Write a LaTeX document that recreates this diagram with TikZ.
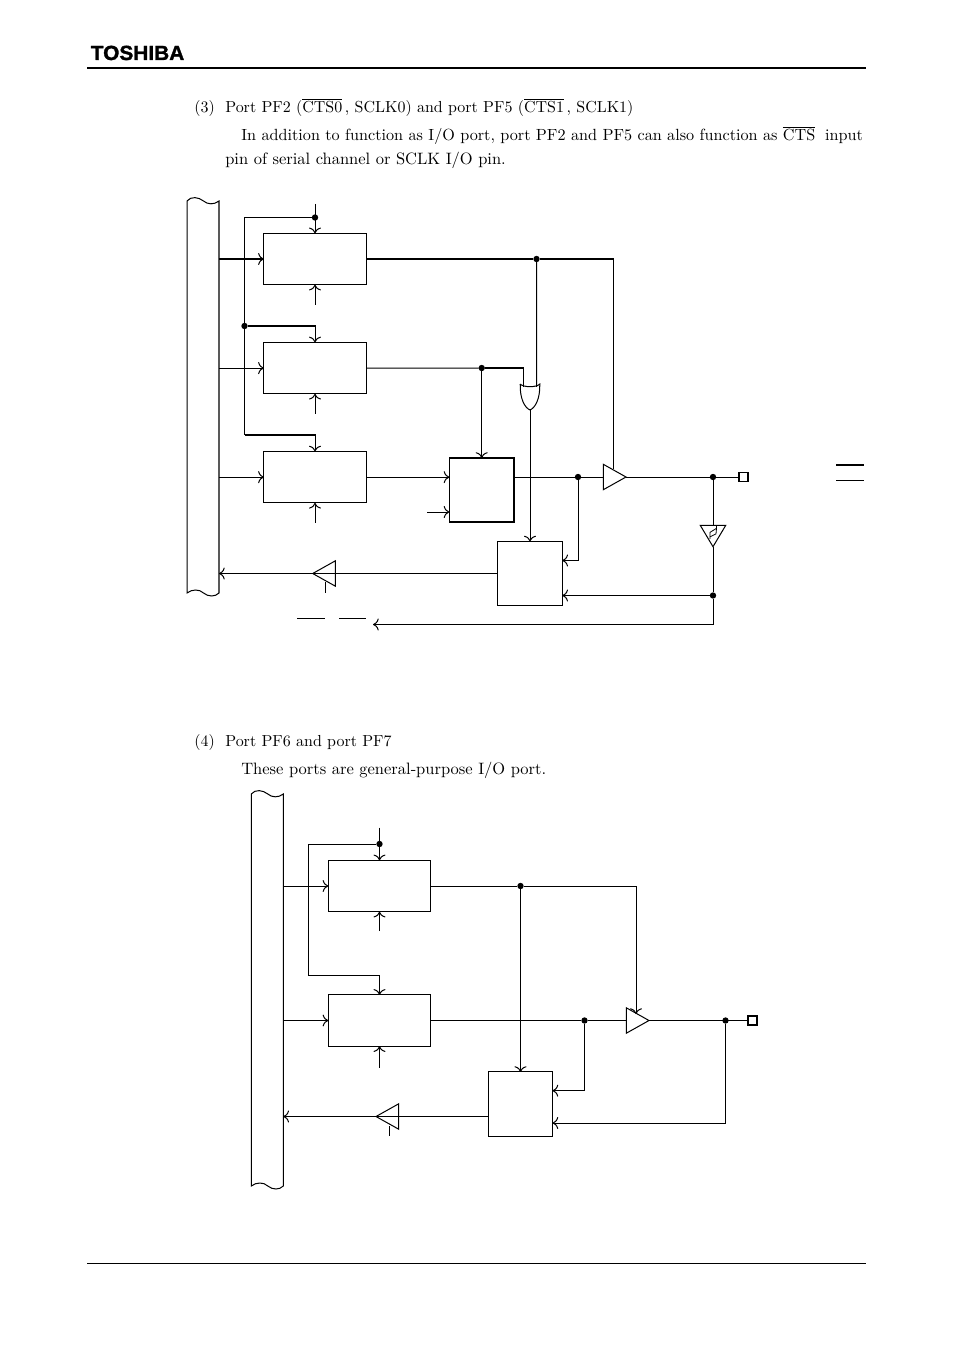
\documentclass[tikz,border=0pt]{standalone}
\usepackage{xcolor}
\usepackage{fontspec}
\usetikzlibrary{shapes.geometric,arrows.meta}
\newfontfamily\logofont{Liberation Sans}[BoldFeatures={FakeBold=1.5,FakeStretch=1.02}]

\begin{document}
\begin{tikzpicture}[x=0.022cm,y=-0.022cm,node distance=2.4cm]
\tikzstyle{box} = [rectangle, minimum width=2.25cm, minimum height=1.13cm, inner sep=0pt, outer sep=0pt, draw=black, line width=0.63pt]
\tikzstyle{mux} = [rectangle, minimum width=1.42cm, minimum height=1.41cm, inner sep=0pt, outer sep=0pt, draw=black, line width=0.63pt]
\tikzstyle{bus} = [rectangle, minimum width=0.704cm, inner sep=0pt, outer sep=0pt]
\tikzstyle{dot} = [circle, fill=black, minimum size=0.14cm, inner sep=0pt, outer sep=0pt]
\tikzstyle{pin} = [rectangle, minimum size=0.2cm, inner sep=0pt, outer sep=0pt, draw=black, line width=0.9pt]
\tikzstyle{buffer} = [isosceles triangle, isosceles triangle stretches, minimum height=0.5cm, minimum width=0.56cm, inner sep=0pt, outer sep=0pt, draw=black, line width=0.63pt]
\tikzstyle{gate} = [rectangle, minimum width=0.43cm, minimum height=0.57cm, inner sep=0pt, outer sep=0pt]
\tikzstyle{body} = [anchor=base west, inner sep=0pt, font=\fontsize{10}{12}\selectfont]
\tikzstyle{bodywide} = [body, font=\fontsize{10.33}{12}\selectfont]
\tikzstyle{wire} = [line width=0.63pt]
\tikzstyle{arrow} = [line width=0.63pt,->,>={To[scale=1.2]}]

\useasboundingbox (0,0) rectangle (954,1350);

% Page
\node (logo) [anchor=base west, inner sep=0pt, font=\logofont\bfseries\fontsize{12.8}{14}\selectfont] at (90.5,60) {TOSHIBA};
\coordinate (heada) at (87,68);
\coordinate (headb) at (866,68);
\coordinate (foota) at (87,1263);
\coordinate (footb) at (866,1263);
\draw [line width=1.2pt] (heada) -- (headb);
\draw [line width=0.6pt] (foota) -- (footb);

\node (numa) [body] at (194,112.7) {(3)};
\node (texta) [body] at (225,112.7) {Port PF2 ($\overline{\mbox{CTS0}}$\,, SCLK0) and port PF5 ($\overline{\mbox{CTS1}}$\,, SCLK1)};
\node (textb) [body, font=\fontsize{10.13}{12}\selectfont] at (241,140.7) {In addition to function as I/O port, port PF2 and PF5 can also function as $\overline{\mbox{CTS}}$\; input};
\node (textc) [bodywide] at (225,165) {pin of serial channel or SCLK I/O pin.};
\node (numb) [body] at (194,746) {(4)};
\node (textd) [body] at (225,746) {Port PF6 and port PF7};
\node (texte) [bodywide] at (241,774) {These ports are general-purpose I/O port.};

% Nodes, upper circuit
\node (busa) [bus, minimum height=392*0.022cm] at (203,397) {};
\node (rega) [box] at (315,259) {};
\node (regb) [box, below of=rega] {};
\node (regc) [box, below of=regb] {};
\node (muxa) [mux, thick] at (481.7,490) {};
\node (muxb) [mux, thick] at (530,573.5) {};
\node (orgate) [gate] at (530,397) {};
\node (bufa) [buffer, anchor=east] at (626,477) {};
\node (bufb) [buffer, shape border rotate=180, anchor=west] at (312.7,573.5) {};
\node (schmitt) [buffer, minimum height=0.47cm, shape border rotate=270, anchor=south] at (713,546.7) {};
\node (pina) [pin] at (743.5,477) {};
\node (dota) [dot] at (315,217.5) {};
\node (dotb) [dot] at (244.5,326) {};
\node (dotc) [dot] at (536.5,259) {};
\node (dotd) [dot] at (481.7,368) {};
\node (dote) [dot] at (578,477) {};
\node (dotf) [dot] at (713,477) {};
\node (dotg) [dot] at (713,595.5) {};
\coordinate (clka) at (315,204);
\coordinate (rsta) at (315,304.5);
\coordinate (rstb) at (315,413.5);
\coordinate (rstc) at (315,522.5);
\coordinate (sela) at (427,512);
\coordinate (sclka) at (373,624.5);
\coordinate (enba) at (325.3,592.5);
\coordinate (enbb) at (325.3,581.5);
\coordinate (ina) at (523.3,386.8);
\coordinate (inb) at (536.7,386.8);
\coordinate (enda) at (613.3,469);
\coordinate (turna) at (244.5,435);
\coordinate (fba) at (562.3,560.5);
\coordinate (bara) at (297,618.5);
\coordinate (barb) at (339,618.5);
\coordinate (barc) at (836,465);
\coordinate (bard) at (836,480);

% Bus and gate outlines
\draw [wire] (busa.north west) .. controls +(4,-5) and +(-5,-4) .. ++(16.5,0) .. controls +(4,3.5) and +(-5,4) .. (busa.north east) -- (busa.south east) .. controls +(-4,4) and +(5,4) .. ++(-15.5,0) .. controls +(-4,-4) and +(5,-4) .. (busa.south west) -- cycle;
\draw [wire] (orgate.north west) .. controls +(3,3.5) and +(-3,3.5) .. (orgate.north east) .. controls +(0.5,15) and +(5,-2) .. (orgate.south) .. controls +(-5,-2) and +(-0.5,15) .. (orgate.north west);
\draw [line width=0.5pt] (schmitt.north) +(-3,13.5) -- +(-3,7) -- +(3.5,3) -- +(3.5,0);
\draw [line width=0.5pt] (schmitt.north) +(-3,11.5) -- +(3,8.5) -- +(3.5,3);

% Arrows, upper circuit
\draw [arrow] (clka) -- (rega.north);
\draw [arrow] (busa.east |- rega.west) -- (rega.west);
\draw [arrow] (busa.east |- regb.west) -- (regb.west);
\draw [arrow] (busa.east |- regc.west) -- (regc.west);
\draw [arrow] (rsta) -- (rega.south);
\draw [arrow] (rstb) -- (regb.south);
\draw [arrow] (rstc) -- (regc.south);
\draw [wire] (dota) -| (dotb);
\draw [arrow] (dotb) -| (regb.north);
\draw [wire] (dotb) -- (turna);
\draw [arrow] (turna) -| (regc.north);
\draw [wire] (rega.east) -- (dotc);
\draw [wire] (dotc) -| (enda);
\draw [wire] (dotc) -- (inb);
\draw [wire] (regb.east) -- (dotd);
\draw [wire] (dotd) -| (ina);
\draw [arrow] (dotd) -- (muxa.north);
\draw [arrow] (regc.east) -- (regc.east -| muxa.west);
\draw [arrow] (sela) -- (sela -| muxa.west);
\draw [arrow] (orgate.south) -- (muxb.north);
\draw [wire] (muxa.east |- bufa.west) -- (bufa.west);
\draw [arrow] (dote) |- (fba);
\draw [wire] (bufa.east) -- (pina.west);
\draw [wire] (dotf) -- (schmitt.north);
\draw [wire] (schmitt.south) -- (dotg);
\draw [arrow] (dotg) -- (dotg -| muxb.east);
\draw [arrow] (dotg) |- (sclka);
\draw [wire] (muxb.west) -- (bufb.west);
\draw [arrow] (bufb.east) -- (bufb.east -| busa.east);
\draw [wire] (enbb) -- (enba);
\draw [wire] (bara) -- +(28,0);
\draw [wire] (barb) -- +(27,0);
\draw [wire] (barc) -- +(28,0);
\draw [wire] (bard) -- +(28,0);

% Nodes, lower circuit
\node (busb) [bus, minimum height=392*0.022cm] at (267.3,990) {};
\node (regd) [box] at (379.5,886) {};
\node (rege) [box] at (379.5,1020.5) {};
\node (muxc) [mux] at (520.5,1104) {};
\node (bufc) [buffer, anchor=east] at (649,1020.5) {};
\node (bufd) [buffer, shape border rotate=180, anchor=west] at (376,1116.5) {};
\node (pinb) [pin] at (752.5,1020.5) {};
\node (doth) [dot] at (379.5,844) {};
\node (doti) [dot] at (520.5,886) {};
\node (dotj) [dot] at (584.5,1020.5) {};
\node (dotk) [dot] at (725.5,1020.5) {};
\coordinate (clkb) at (379.5,827.5);
\coordinate (rstd) at (379.5,931);
\coordinate (rste) at (379.5,1067.5);
\coordinate (enbc) at (389,1135.5);
\coordinate (enbd) at (389,1126);
\coordinate (endb) at (636,1014);
\coordinate (turnb) at (308.3,975);
\coordinate (fbb) at (552.5,1090.7);
\coordinate (fbc) at (552.5,1123);

% Arrows, lower circuit
\draw [wire] (busb.north west) .. controls +(4,-5) and +(-5,-4) .. ++(16.5,0) .. controls +(4,3.5) and +(-5,4) .. (busb.north east) -- (busb.south east) .. controls +(-4,4) and +(5,4) .. ++(-15.5,0) .. controls +(-4,-4) and +(5,-4) .. (busb.south west) -- cycle;
\draw [arrow] (clkb) -- (regd.north);
\draw [arrow] (busb.east |- regd.west) -- (regd.west);
\draw [arrow] (busb.east |- rege.west) -- (rege.west);
\draw [arrow] (rstd) -- (regd.south);
\draw [arrow] (rste) -- (rege.south);
\draw [wire] (doth) -| (turnb);
\draw [arrow] (turnb) -| (rege.north);
\draw [wire] (regd.east) -- (doti);
\draw [arrow] (doti) -| (endb);
\draw [arrow] (doti) -- (muxc.north);
\draw [wire] (rege.east) -- (dotj);
\draw [wire] (dotj) -- (bufc.west);
\draw [arrow] (dotj) |- (fbb);
\draw [wire] (bufc.east) -- (pinb.west);
\draw [arrow] (dotk) |- (fbc);
\draw [wire] (muxc.west |- bufd.west) -- (bufd.west);
\draw [arrow] (bufd.east) -- (bufd.east -| busb.east);
\draw [wire] (enbd) -- (enbc);

\end{tikzpicture}
\end{document}
